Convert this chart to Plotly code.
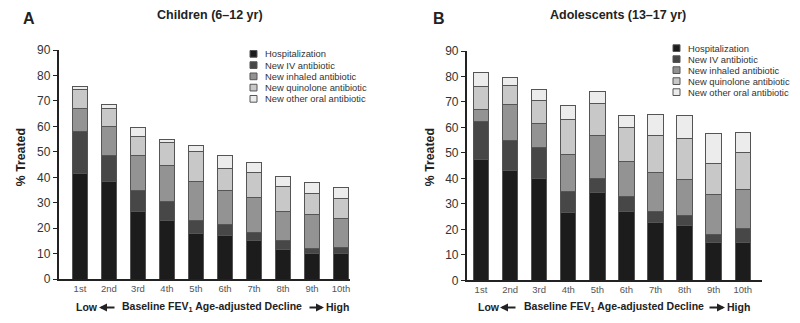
import plotly.graph_objects as go

W, H = 800, 323

categories = ["1st", "2nd", "3rd", "4th", "5th", "6th", "7th", "8th", "9th", "10th"]
series_names = ["Hospitalization", "New IV antibiotic", "New inhaled antibiotic",
                "New quinolone antibiotic", "New other oral antibiotic"]

# Children (6-12 yr): segment heights (% treated)
child_hosp = [41.5, 38.5, 26.5, 23.0, 18.0, 17.0, 15.0, 11.5, 10.0, 10.0]
child_iv = [16.5, 10.0, 8.5, 7.5, 5.0, 4.5, 3.5, 3.5, 2.0, 2.5]
child_inhaled = [9.0, 11.5, 13.5, 14.0, 15.5, 13.5, 13.5, 11.5, 13.5, 11.5]
child_quin = [7.5, 7.0, 7.5, 9.0, 11.5, 8.5, 10.0, 10.0, 8.0, 7.5]
child_other = [1.0, 1.5, 3.5, 1.5, 2.5, 5.0, 4.0, 4.0, 4.5, 4.5]

# Adolescents (13-17 yr): segment heights (% treated)
adol_hosp = [47.5, 43.0, 40.0, 26.5, 34.5, 27.0, 22.5, 21.5, 15.0, 15.0]
adol_iv = [15.0, 12.0, 12.0, 8.5, 5.5, 6.0, 4.5, 4.0, 3.0, 5.5]
adol_inhaled = [4.5, 14.0, 9.5, 14.5, 17.0, 13.5, 15.5, 14.0, 15.5, 15.0]
adol_quin = [9.0, 7.5, 9.0, 13.5, 12.5, 13.5, 14.5, 16.0, 12.5, 14.5]
adol_other = [5.5, 3.0, 4.5, 5.5, 4.5, 4.5, 8.0, 9.0, 11.5, 8.0]

y_ticks = [0, 10, 20, 30, 40, 50, 60, 70, 80, 90]

colors = ["#1c1c1c", "#474747", "#939393", "#c8c8c8", "#ececec"]
outline = "#555555"
FONT = "Liberation Sans, Arial, sans-serif"


def xp(px):
    return px / W


def yp(py):
    return 1 - py / H


fig = go.Figure()
xs = list(range(len(categories)))
child = [child_hosp, child_iv, child_inhaled, child_quin, child_other]
adol = [adol_hosp, adol_iv, adol_inhaled, adol_quin, adol_other]

for i, name in enumerate(series_names):
    fig.add_trace(go.Bar(x=xs, y=child[i], name=name, width=0.51,
                         marker=dict(color=colors[i], line=dict(color=outline, width=1)),
                         xaxis="x", yaxis="y", showlegend=False))
for i, name in enumerate(series_names):
    fig.add_trace(go.Bar(x=xs, y=adol[i], name=name, width=0.53,
                         marker=dict(color=colors[i], line=dict(color=outline, width=1)),
                         xaxis="x2", yaxis="y2", showlegend=False))

xaxis_common = dict(tickmode="array", tickvals=xs, ticktext=categories,
                    showline=True, linecolor="#222", linewidth=1.5, ticks="",
                    showgrid=False, zeroline=False,
                    tickfont=dict(family=FONT, size=9.5, color="#555"))
yaxis_common = dict(range=[0, 90], tickmode="array", tickvals=y_ticks,
                    showline=True, linecolor="#222", linewidth=1.5,
                    ticks="outside", ticklen=4, tickwidth=1.2, tickcolor="#222",
                    showgrid=False, zeroline=False,
                    tickfont=dict(family=FONT, size=12, color="#333"))

fig.update_layout(
    width=W, height=H, margin=dict(l=0, r=0, t=0, b=0),
    paper_bgcolor="white", plot_bgcolor="white",
    barmode="stack", showlegend=False,
    font=dict(family=FONT),
    xaxis=dict(domain=[xp(58.5), xp(350)], range=[-0.74, 9.31], anchor="y", **xaxis_common),
    yaxis=dict(domain=[yp(284.5), yp(45)], anchor="x", **yaxis_common),
    xaxis2=dict(domain=[xp(466.7), xp(762)], range=[-0.49, 9.66], anchor="y2", **xaxis_common),
    yaxis2=dict(domain=[yp(285.7), yp(46)], anchor="x2", **yaxis_common),
)

ann = []
shapes = []

# Panel letters and titles
for letter, lx, ly, title, tx in [("A", 21, 12, "Children (6–12 yr)", 210),
                                   ("B", 431, 11.5, "Adolescents (13–17 yr)", 618)]:
    ann.append(dict(text=f"<b>{letter}</b>", x=xp(lx), y=yp(ly), xref="paper", yref="paper",
                    xanchor="left", yanchor="middle", showarrow=False,
                    font=dict(family=FONT, size=16, color="#222")))
    ann.append(dict(text=f"<b>{title}</b>", x=xp(tx), y=yp(8), xref="paper", yref="paper",
                    xanchor="center", yanchor="middle", showarrow=False,
                    font=dict(family=FONT, size=12.5, color="#222")))

# Y-axis titles
for cx in [21, 430]:
    ann.append(dict(text="<b>% Treated</b>", x=xp(cx), y=yp(157), xref="paper", yref="paper",
                    xanchor="center", yanchor="middle", showarrow=False, textangle=-90,
                    font=dict(family=FONT, size=12.3, color="#222")))

# X-axis titles: Low <- Baseline FEV1 Age-adjusted Decline -> High
for low_l, la0, la1, mid, ra0, ra1, high_r in [(74, 116, 99, 211.5, 308, 324, 351),
                                               (476, 517, 500, 614, 708, 725, 752)]:
    ty = 314
    ann.append(dict(text="<b>Low</b>", x=xp(low_l), y=yp(ty), xref="paper", yref="paper",
                    xanchor="left", yanchor="middle", showarrow=False,
                    font=dict(family=FONT, size=10.5, color="#222")))
    ann.append(dict(text="<b>Baseline FEV<sub>1</sub> Age-adjusted Decline</b>", x=xp(mid), y=yp(ty),
                    xref="paper", yref="paper", xanchor="center", yanchor="middle", showarrow=False,
                    font=dict(family=FONT, size=10.5, color="#222")))
    ann.append(dict(text="<b>High</b>", x=xp(high_r), y=yp(ty), xref="paper", yref="paper",
                    xanchor="right", yanchor="middle", showarrow=False,
                    font=dict(family=FONT, size=10.5, color="#222")))
    # arrows (head at x, tail offset by ax)
    ann.append(dict(text="", x=xp(la1), y=yp(ty), xref="paper", yref="paper",
                    ax=la0 - la1, ay=0, showarrow=True, arrowhead=2, arrowsize=0.8,
                    arrowwidth=2, arrowcolor="#222", standoff=0, startstandoff=0))
    ann.append(dict(text="", x=xp(ra1), y=yp(ty), xref="paper", yref="paper",
                    ax=ra0 - ra1, ay=0, showarrow=True, arrowhead=2, arrowsize=0.8,
                    arrowwidth=2, arrowcolor="#222", standoff=0, startstandoff=0))

# Manual legends
for sx, y0, step in [(250, 49, 11.75), (673, 43, 11.5)]:
    for i, name in enumerate(series_names):
        cy = y0 + i * step
        shapes.append(dict(type="rect", xref="paper", yref="paper",
                           x0=xp(sx), x1=xp(sx + 7), y0=yp(cy + 3.5), y1=yp(cy - 3.5),
                           fillcolor=colors[i], line=dict(color=outline, width=1)))
        ann.append(dict(text=name, x=xp(sx + 13), y=yp(cy), xref="paper", yref="paper",
                        xanchor="left", yanchor="middle", showarrow=False,
                        font=dict(family=FONT, size=9.4, color="#333")))

fig.update_layout(annotations=ann, shapes=shapes)
fig.write_html("out.html", config={"displayModeBar": False},
               post_script="document.body.style.margin='0';document.body.style.padding='0';")
